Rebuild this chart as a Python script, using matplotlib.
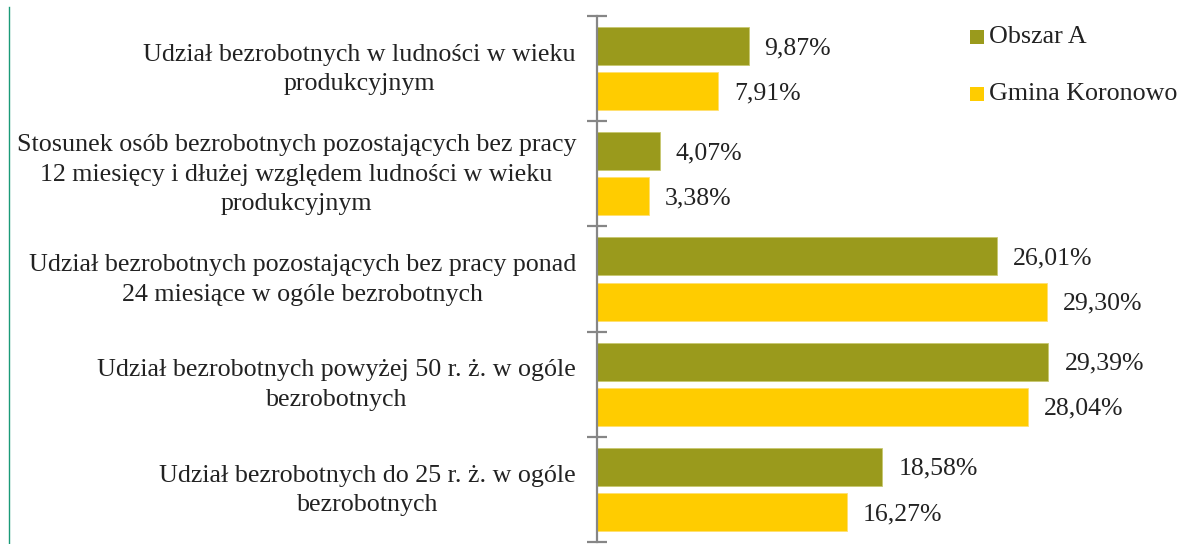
import matplotlib
matplotlib.use("Agg")
import matplotlib.pyplot as plt
from matplotlib.patches import Rectangle
from matplotlib.lines import Line2D

categories = [
    "Udział bezrobotnych w ludności w wieku\nprodukcyjnym",
    "Stosunek osób bezrobotnych pozostających bez pracy\n12 miesięcy i dłużej względem ludności w wieku\nprodukcyjnym",
    "Udział bezrobotnych pozostających bez pracy ponad\n24 miesiące w ogóle bezrobotnych",
    "Udział bezrobotnych powyżej 50 r. ż. w ogóle\nbezrobotnych",
    "Udział bezrobotnych do 25 r. ż. w ogóle\nbezrobotnych",
]
series_names = ["Obszar A", "Gmina Koronowo"]
obszar_a = [9.87, 4.07, 26.01, 29.39, 18.58]
gmina = [7.91, 3.38, 29.30, 28.04, 16.27]
colors = ["#9A9A1C", "#FFCC00"]

W, H = 1184, 544
fig = plt.figure(figsize=(W / 100, H / 100), dpi=100)
plt.rcParams['font.family'] = ['Liberation Serif', 'DejaVu Serif']

ax_left = 597 / W
ax_w = (W - 597) / W
ax = fig.add_axes([ax_left, 2 / H, ax_w, 526 / H])
px_per_unit = 15.36
ax.set_xlim(0, (W - 597) / px_per_unit)
ax.set_ylim(4.5, -0.5)

n = len(categories)
pos = list(range(n))
off = 0.215
bh = 0.36
ax.barh([p - off for p in pos], obszar_a, height=bh, color=colors[0], edgecolor="#c8c870", linewidth=0.6)
ax.barh([p + off for p in pos], gmina, height=bh, color=colors[1], edgecolor="#ffe070", linewidth=0.6)

fs_val = 18.5
fs_cat = 18.7
txt_col = "#222222"
for p, v in zip(pos, obszar_a):
    ax.annotate(f"{v:.2f}%".replace(".", ","), (v, p - off), xytext=(16, -2), textcoords="offset pixels",
                va="center", ha="left", fontsize=fs_val, color=txt_col)
for p, v in zip(pos, gmina):
    ax.annotate(f"{v:.2f}%".replace(".", ","), (v, p + off), xytext=(16, -2), textcoords="offset pixels",
                va="center", ha="left", fontsize=fs_val, color=txt_col)

for p, c in zip(pos, categories):
    ax.annotate(c, (0, p), xycoords=("axes fraction", "data"), xytext=(-21, -1), textcoords="offset pixels",
                ha="right", va="center", multialignment="center", fontsize=fs_cat, color=txt_col,
                linespacing=1.45)

for s in ["top", "right", "bottom"]:
    ax.spines[s].set_visible(False)
ax.spines["left"].set_color("#868686")
ax.spines["left"].set_linewidth(1.6)
ax.set_xticks([])
ax.set_yticks([p - 0.5 for p in pos] + [n - 0.5])
ax.set_yticklabels([])
ax.tick_params(axis="y", direction="inout", length=14, width=1.6, color="#868686")

# legend
leg_y = [37, 94]
for name, col, y in zip(series_names, colors, leg_y):
    fig.patches.append(Rectangle((970 / W, 1 - (y + 7) / H), 14 / W, 14 / H,
                                 transform=fig.transFigure, facecolor=col, edgecolor="none"))
    fig.text(989 / W, 1 - y / H, name, ha="left", va="center", fontsize=fs_cat, color=txt_col)

# left green frame line
fig.lines.append(Line2D([9 / W, 9 / W], [0, 1 - 7 / H], transform=fig.transFigure, color="#1a9a78", linewidth=1))

fig.savefig("out.png", dpi=100)
